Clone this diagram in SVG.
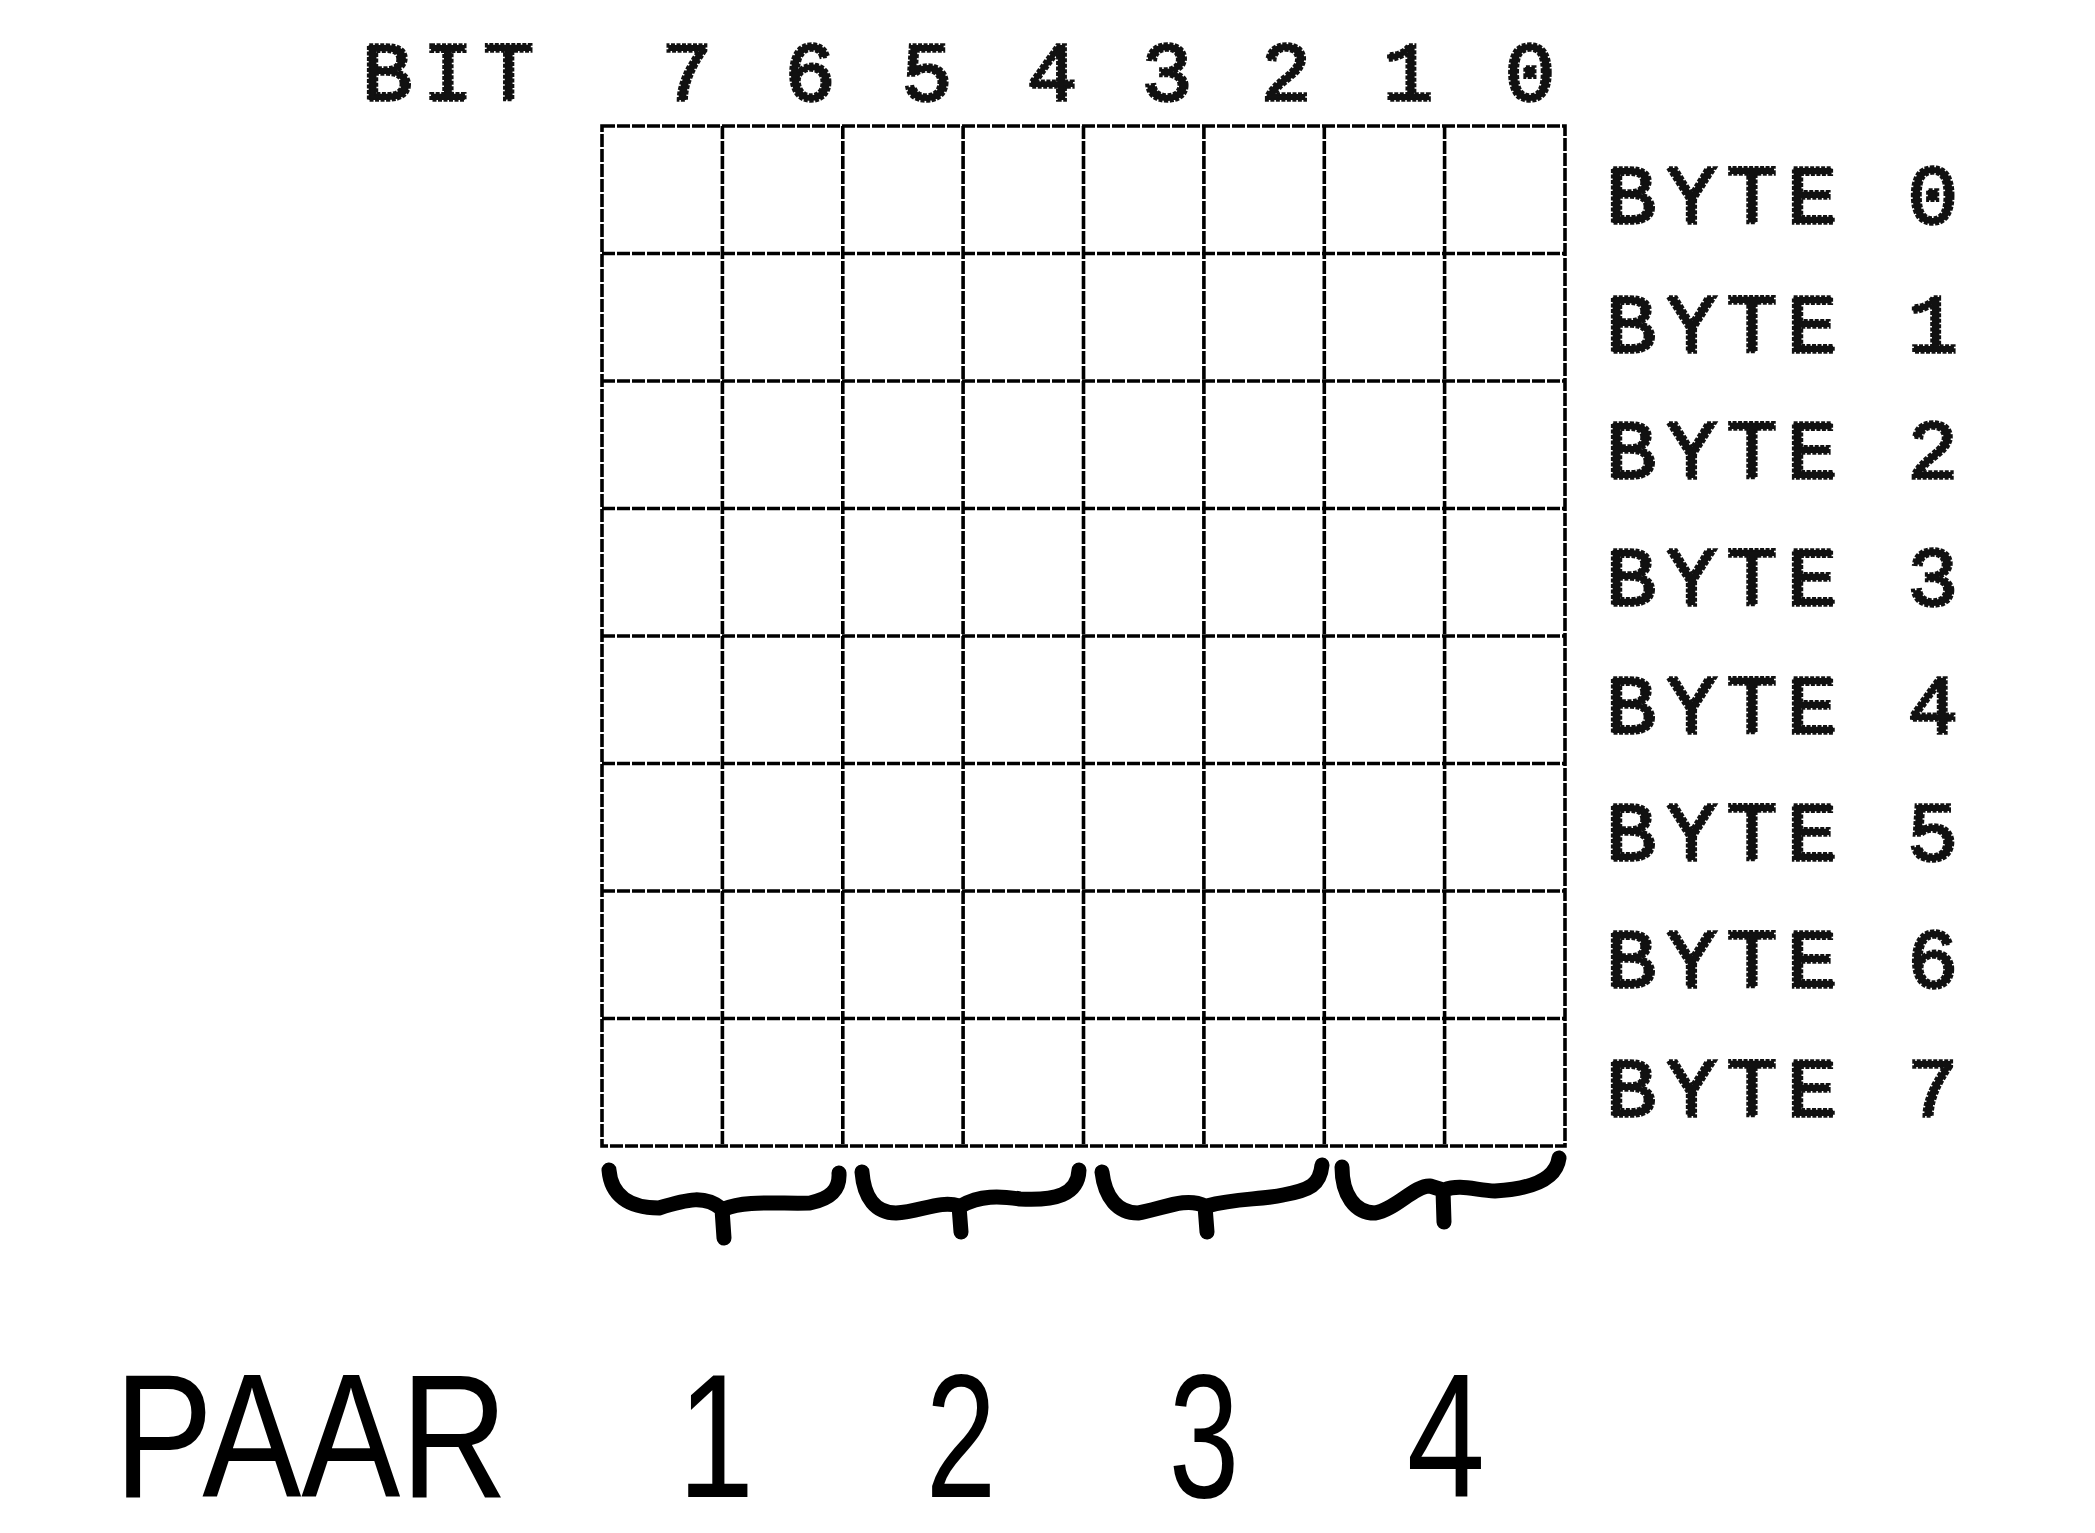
<svg xmlns="http://www.w3.org/2000/svg" width="2095" height="1533" viewBox="0 0 2095 1533">
<style>
.grid{stroke:#000;stroke-width:3.6;fill:none;stroke-dasharray:13 2}
.dm{font-family:"Liberation Mono","DejaVu Sans Mono",monospace;font-weight:normal;font-size:84px;fill:#111;stroke:#111;stroke-width:3.5;stroke-dasharray:4 1.5}
.dmc{text-anchor:middle}
.brace{stroke:#000;stroke-width:15;fill:none;stroke-linecap:round;stroke-linejoin:round}
.paar{font-family:"Liberation Sans",Arial,sans-serif;font-size:176px;fill:#000}
</style>
<rect width="2095" height="1533" fill="#fff"/>
<g id="bit-header">
<text class="dm" x="362" y="100" textLength="172" lengthAdjust="spacing">BIT</text>
<text class="dm dmc" x="687" y="100">7</text>
<text class="dm dmc" x="810" y="100">6</text>
<text class="dm dmc" x="927" y="100">5</text>
<text class="dm dmc" x="1052" y="100">4</text>
<text class="dm dmc" x="1167" y="100">3</text>
<text class="dm dmc" x="1286" y="100">2</text>
<text class="dm dmc" x="1408" y="100">1</text>
<text class="dm dmc" x="1530" y="100">0</text>
</g>
<g id="grid">
<rect class="grid" x="602" y="126" width="963" height="1020"/>
<path class="grid" d="M722.4 126V1146M842.8 126V1146M963.1 126V1146M1083.5 126V1146M1203.9 126V1146M1324.3 126V1146M1444.6 126V1146"/>
<path class="grid" d="M602 253.5H1565M602 381H1565M602 508.5H1565M602 636H1565M602 763.5H1565M602 891H1565M602 1018.5H1565"/>
</g>
<g id="byte-labels">
<text class="dm" x="1606" y="223" textLength="352" lengthAdjust="spacing">BYTE 0</text>
<text class="dm" x="1606" y="352" textLength="352" lengthAdjust="spacing">BYTE 1</text>
<text class="dm" x="1606" y="478" textLength="352" lengthAdjust="spacing">BYTE 2</text>
<text class="dm" x="1606" y="605" textLength="352" lengthAdjust="spacing">BYTE 3</text>
<text class="dm" x="1606" y="733" textLength="352" lengthAdjust="spacing">BYTE 4</text>
<text class="dm" x="1606" y="860" textLength="352" lengthAdjust="spacing">BYTE 5</text>
<text class="dm" x="1606" y="987" textLength="352" lengthAdjust="spacing">BYTE 6</text>
<text class="dm" x="1606" y="1116" textLength="352" lengthAdjust="spacing">BYTE 7</text>
</g>
<g id="connectors">
<path class="brace" d="M609 1170C611 1195 628 1208 659 1208C688 1199 705 1195 722 1209L724 1238M724 1209C745 1200 780 1204 810 1203C830 1199 840 1190 839 1173"/>
<path class="brace" d="M862 1172C864 1198 876 1213 896 1213C920 1212 940 1200 959 1206L961 1232M961 1206C980 1195 1000 1196 1020 1199C1055 1201 1078 1195 1079 1170"/>
<path class="brace" d="M1102 1172C1105 1198 1118 1213 1138 1213C1160 1210 1185 1196 1205 1206L1207 1232M1207 1206C1235 1198 1260 1200 1283 1195C1310 1190 1320 1185 1322 1165"/>
<path class="brace" d="M1342 1167C1342 1195 1355 1213 1375 1213C1395 1210 1415 1185 1430 1186L1443 1190L1444 1222M1444 1190C1460 1184 1475 1190 1495 1191C1530 1189 1556 1180 1559 1158"/>
</g>
<g id="paar-labels">
<text class="paar" x="114" y="1497" textLength="394" lengthAdjust="spacingAndGlyphs">PAAR</text>
<text class="paar" text-anchor="middle" transform="translate(716 1497) scale(0.78 1)">1</text>
<text class="paar" text-anchor="middle" transform="translate(961 1497) scale(0.72 1)">2</text>
<text class="paar" text-anchor="middle" transform="translate(1204 1497) scale(0.72 1)">3</text>
<text class="paar" text-anchor="middle" transform="translate(1446 1497) scale(0.8 1)">4</text>
</g>
</svg>
